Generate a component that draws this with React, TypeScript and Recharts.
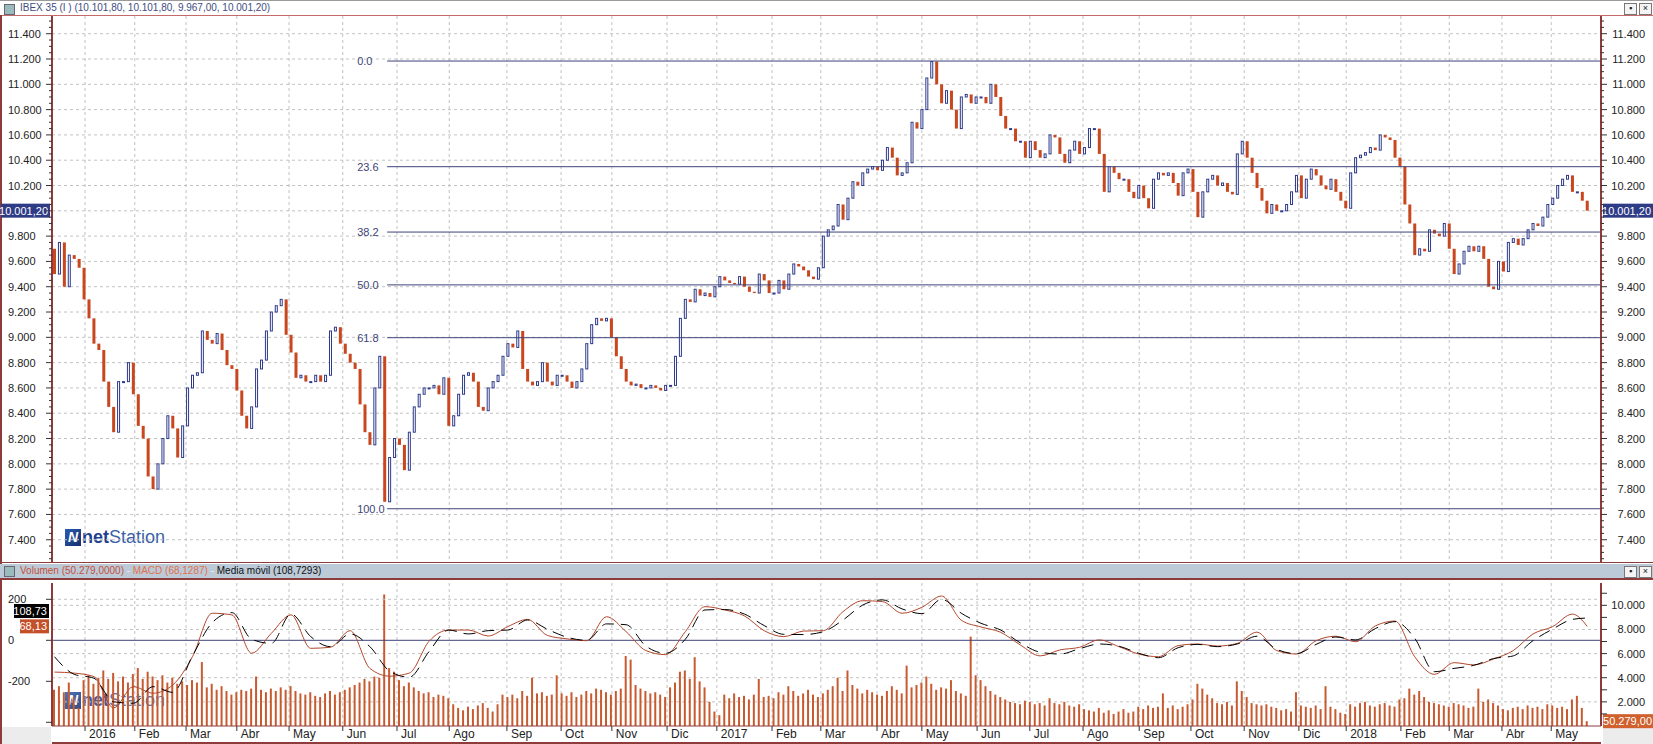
import React from "react";
import { ComposedChart, Bar, Line, XAxis, YAxis, ReferenceLine, CartesianGrid } from "recharts";

const FONT = '"Liberation Sans", Arial, sans-serif';
const W = 1653;
const AXIS_W = 52;
const PLOT_RIGHT = W - AXIS_W;
const FRAME = "#8e3b3b";
const GRID = "#c2c2c2";
const FIB = "#3d4478";
const DOWN = "#c9471f";
const UP_EDGE = "#2d3a8c";
const VOL = "#c85a30";
const MACD_C = "#b4472c";

// x positions are in candle units (one candle = two sessions)
const xDomain = [-0.5, 313.8];
const monthLabels = ["2016", "Feb", "Mar", "Abr", "May", "Jun", "Jul", "Ago", "Sep", "Oct", "Nov", "Dic",
  "2017", "Feb", "Mar", "Abr", "May", "Jun", "Jul", "Ago", "Sep", "Oct", "Nov", "Dic",
  "2018", "Feb", "Mar", "Abr", "May"];
const monthStarts = [6.2, 16.3, 26.7, 37.0, 47.6, 58.5, 69.5, 80.1, 91.8, 102.8, 113.1, 124.3,
  134.4, 145.6, 155.5, 166.9, 176.0, 187.2, 197.9, 208.7, 220.1, 230.6, 241.4, 252.5,
  262.1, 273.2, 283.0, 293.7, 303.7];

const firstOpen = 9700;
const closes = [
  9500, 9750, 9400, 9650, 9620, 9550, 9300, 9150, 8950, 8900,
  8650, 8450, 8250, 8650, 8650, 8800, 8550, 8300, 8200, 7900,
  7800, 8000, 8200, 8380, 8280, 8050, 8300, 8600, 8700, 8720,
  9050, 8980, 8950, 9030, 8900, 8780, 8750, 8580, 8380, 8280,
  8450, 8750, 8820, 9050, 9200, 9250, 9300, 9020, 8880, 8680,
  8700, 8650, 8650, 8700, 8650, 8700, 9050, 9080, 8950, 8870,
  8800, 8750, 8470, 8250, 8150, 8600, 8850, 7700, 8050, 8200,
  8150, 7950, 8250, 8450, 8550, 8600, 8600, 8620, 8550, 8680,
  8300, 8380, 8550, 8700, 8720, 8650, 8450, 8420, 8600, 8650,
  8700, 8850, 8950, 8920, 9050, 8750, 8650, 8620, 8650, 8800,
  8650, 8620, 8700, 8700, 8650, 8600, 8650, 8750, 8950, 9100,
  9150, 9130, 9150, 9000, 8850, 8750, 8650, 8620, 8630, 8600,
  8600, 8620, 8600, 8580, 8620, 8620, 8850, 9150, 9300, 9280,
  9380, 9330, 9350, 9320, 9400, 9480, 9450, 9430, 9420, 9480,
  9400, 9360, 9350, 9500, 9450, 9350, 9350, 9450, 9380, 9500,
  9580, 9560, 9530, 9480, 9460, 9550, 9800, 9850, 9880, 10050,
  9930, 10100, 10230, 10200, 10300, 10330, 10350, 10320, 10400, 10500,
  10420, 10280, 10300, 10380, 10700, 10650, 10800, 11050, 11180, 11000,
  10850, 10950, 10800, 10650, 10900, 10920, 10850, 10900, 10900, 10850,
  11000, 10900, 10750, 10650, 10650, 10550, 10550, 10420, 10550, 10480,
  10420, 10450, 10600, 10580, 10450, 10380, 10480, 10550, 10450, 10500,
  10650, 10650, 10450, 10150, 10350, 10300, 10250, 10250, 10150, 10100,
  10200, 10100, 10020, 10250, 10300, 10280, 10300, 10220, 10120, 10300,
  10330, 10150, 9950, 10150, 10250, 10280, 10200, 10220, 10150, 10130,
  10450, 10550, 10420, 10300, 10180, 10080, 9980, 10050, 10000, 10000,
  10050, 10150, 10280, 10100, 10250, 10330, 10280, 10200, 10170, 10250,
  10150, 10080, 10020, 10300, 10420, 10440, 10460, 10500, 10480, 10600,
  10580, 10560, 10420, 10350, 10050, 9900, 9650, 9700, 9680, 9850,
  9820, 9800, 9900, 9700, 9500, 9580, 9680, 9720, 9680, 9720,
  9620, 9400, 9380, 9600, 9520, 9750, 9780, 9730, 9780, 9850,
  9900, 9880, 9950, 10050, 10100, 10200, 10250, 10280, 10150, 10150,
  10080, 10001.2,
];

const volumes = [
  3000, 3300, 2800, 3600, 2400, 1500, 3800, 4200, 3500, 4000,
  4600, 3900, 4400, 3700, 4100, 3600, 4300, 4800, 3900, 4500,
  4100, 3800, 4200, 3600, 4000, 3500, 3700, 3400, 3800, 3600,
  5300, 3200, 3500, 3000, 3300, 2900, 2600, 2800, 3000, 2900,
  3100, 4100, 3000, 2800, 3100, 2900, 3200, 3000, 3300, 2900,
  2700, 2600, 2800, 2500, 2400, 2700, 2900, 2600, 2800, 3000,
  3200, 3400, 3600, 3900, 3700, 4100, 4000, 10900, 4800, 4500,
  3800, 3300, 3600, 3200, 2900, 2700, 2800, 2400, 2600, 2500,
  2300, 1800, 1500, 1300, 1600, 1400, 1700, 1900, 1500, 1200,
  1800, 2600, 2400, 2600, 2300, 2900, 2500, 4000, 2700, 2800,
  2500, 2600, 4200, 2700, 2500, 2800, 2400, 2600, 2900, 2700,
  3100, 3000, 2800, 2600, 2900, 3100, 5800, 5500, 3400, 3100,
  2900, 2700, 2800, 2600, 2400, 3200, 3600, 4500, 4600, 3900,
  5700, 3700, 3200, 2000, 1200, 900, 2600, 2300, 2700, 2400,
  2500, 2200, 2600, 3900, 2400, 2500, 2300, 2800, 2600, 3300,
  2900, 2500, 2700, 3000, 2600, 2400, 2700, 3000, 3300, 4000,
  2900, 4600, 3400, 3100, 2700, 3000, 2800, 2600, 2500, 2900,
  3300, 3000, 2700, 5000, 3200, 3400, 3600, 4100, 3500, 3000,
  3200, 3100, 3800, 2900, 2700, 2500, 7400, 4200, 3800, 3300,
  2900, 2600, 2400, 2200, 2000, 1900, 1800, 2100, 2000, 1800,
  1900, 1700, 2300, 1900, 1800, 2000, 1700, 1600, 1800, 1400,
  1300, 1200, 1500, 1100, 1300, 1000, 1200, 1400, 1100, 1200,
  1600, 1400, 1700, 1500, 1600, 2700, 1500, 1700, 1400, 1600,
  1800, 2200, 3500, 3100, 2600, 2300, 1900, 1800, 2000, 1700,
  3700, 2900, 2400, 1900, 1800, 1700, 1800, 1600, 1500, 1300,
  1400, 1200, 2800, 1700, 1600, 1500, 1700, 1400, 3300, 1600,
  1400, 1100, 1000, 1800, 1600, 1900, 2000, 1700, 1600, 1800,
  1900, 1700, 1600, 2200, 2300, 3100, 2600, 2900, 2400, 2000,
  1900, 1800, 1700, 1600, 1900, 1800, 1700, 1500, 1600, 3100,
  2000, 2200, 1900, 1700, 1400, 1300, 1500, 1600, 1400, 1700,
  1500, 1600, 1400, 1800, 1700, 1500, 1600, 1400, 2200, 2500,
  1500, 400,
];

// MACD and its moving average, one reading every 4 candles (last one on the last candle)
const macdStep = 4;
const macd = [
  -155, -160, -177, -330, -226, -258, -218, -80, 132, 124,
  -63, 34, 124, -39, -34, 47, -137, -175, -160, -5,
  50, 50, 21, 67, 102, 24, 7, -2, 115, 42,
  -50, -70, 42, 164, 148, 119, 47, 18, 45, 47,
  140, 193, 189, 132, 161, 216, 98, 65, 39, -23,
  -76, -47, -34, 2, -31, -67, -80, -26, -18, -28,
  -15, 40, -50, -67, -2, 20, -7, 70, 94, -80,
  -166, -109, -120, -91, -50, 31, 67, 128, 68.1287,
];
const signal = [
  -80, -166, -185, -300, -307, -226, -254, -76, 86, 135,
  5, -15, 128, 18, -31, 31, -31, -150, -180, -55,
  50, 31, 47, 50, 99, 54, 15, 0, 80, 76,
  -28, -63, 5, 148, 150, 128, 72, 29, 28, 42,
  99, 172, 197, 153, 130, 200, 132, 83, 50, -13,
  -58, -67, -41, -18, -29, -63, -85, -36, -20, -31,
  -18, 20, -44, -65, -20, 16, 2, 57, 91, 10,
  -153, -137, -122, -89, -76, -2, 55, 102, 108.7293,
];

const lastOpen = 10101.8;
const lastHigh = 10101.8;
const lastLow = 9967;
const lastPrice = 10001.2;
const volumeReading = 50279;

const fibHigh = 11184;
const fibLow = 7645;
const fibRatios = [0, 23.6, 38.2, 50, 61.8, 100];
const fibStart = 67.5;

const priceLabels = [7400, 7600, 7800, 8000, 8200, 8400, 8600, 8800, 9000, 9200, 9400,
  9600, 9800, 10000, 10200, 10400, 10600, 10800, 11000, 11200, 11400];
const priceTicks = priceLabels.flatMap((v) => [v - 150, v - 100, v - 50, v]).concat([11450, 11500]);
const macdLabels = [-200, 0, 200];
const macdTicks = [-400, -200, 0, 200];
const volLabels = [2000, 4000, 6000, 8000, 10000];
const volTicks = [1000, 2000, 3000, 4000, 5000, 6000, 7000, 8000, 9000, 10000, 11000];

function fmt(v: number, decimals = 0) {
  const neg = v < 0;
  const [int, dec] = Math.abs(v).toFixed(decimals).split(".");
  const grouped = int.replace(/\B(?=(\d{3})+(?!\d))/g, ".");
  return (neg ? "-" : "") + grouped + (dec ? "," + dec : "");
}

const rows: any[] = closes.map((c, k) => {
  const o = k === 0 ? firstOpen : closes[k - 1];
  return { k, o, c, body: [Math.min(o, c), Math.max(o, c)], vol: volumes[k] };
});
macd.forEach((m, i) => {
  const k = Math.min(i * macdStep, rows.length - 1);
  rows[k].macd = m;
  rows[k].signal = signal[i];
});

const txt = { fontFamily: FONT, fontSize: 11, fill: "#222" };

function Candle(props: any) {
  const { x, y, width, height, payload } = props;
  const h = Math.max(height, 1);
  if (payload.c >= payload.o) {
    return <rect x={x + 0.5} y={y} width={width - 1} height={h} fill="#fff" stroke={UP_EDGE} strokeWidth={1} />;
  }
  return <rect x={x} y={y} width={width} height={h} fill={DOWN} />;
}

function SideTick(props: any) {
  const { y, payload, side, labels, format, hide } = props;
  const v = payload.value;
  const major = labels.includes(v) || v % 200 === 0;
  const left = side === "left";
  const x0 = left ? AXIS_W : PLOT_RIGHT;
  const s = left ? -1 : 1;
  const showLabel = labels.includes(v) && !(hide && hide(v));
  return (
    <g>
      <line x1={x0} x2={x0 + s * (major ? 6 : 3)} y1={y} y2={y} stroke="#333" />
      {showLabel && (
        <text x={left ? 8 : W - 8} y={y + 4} textAnchor={left ? "start" : "end"} {...txt}>
          {format(v)}
        </text>
      )}
    </g>
  );
}

// the last-price box covers the nearest axis label
const underPriceBox = (v: number) => Math.abs(v - lastPrice) < 60;

function MonthTick(props: any) {
  const { x, y, payload } = props;
  const i = monthStarts.indexOf(payload.value);
  return (
    <g>
      <line x1={x} x2={x} y1={y - 8} y2={y - 3} stroke="#333" />
      <text x={x + 4} y={y + 4} fontFamily={FONT} fontSize={12} fill="#222">{monthLabels[i]}</text>
    </g>
  );
}

function Box({ x, y, w, bg, text }: any) {
  return (
    <g>
      <rect x={x} y={y - 7} width={w} height={14} fill={bg} />
      <text x={x + w - 2} y={y + 4} textAnchor="end" fontFamily={FONT} fontSize={11} fill="#fff">{text}</text>
    </g>
  );
}

function Watermark({ x, y, opacity }: any) {
  return (
    <div style={{ position: "absolute", left: x, top: y, display: "flex", alignItems: "center", opacity }}>
      <div style={{ width: 16, height: 17, background: "linear-gradient(135deg,#2a5cb0,#14306e)", color: "#fff",
        fontSize: 14, fontWeight: 700, fontStyle: "italic", lineHeight: "17px", textAlign: "center" }}>N</div>
      <span style={{ fontSize: 18, fontWeight: 700, color: "#1f3f8f", marginLeft: 1 }}>net</span>
      <span style={{ fontSize: 18, color: "#3b5fa8" }}>Station</span>
    </div>
  );
}

function WinButtons({ top }: any) {
  const b = { position: "absolute" as const, top, width: 11, height: 10, border: "1px solid #777", background: "#f4f4f4",
    fontSize: 9, lineHeight: "9px", textAlign: "center" as const, color: "#222" };
  return (
    <>
      <div style={{ ...b, left: 1624 }}>▪</div>
      <div style={{ ...b, left: 1639 }}>×</div>
    </>
  );
}

export default function App() {
  const title = `IBEX 35 (I ) (${fmt(lastOpen, 2)}, ${fmt(lastHigh, 2)}, ${fmt(lastLow, 2)}, ${fmt(lastPrice, 2)})`;
  const lastMacd = macd[macd.length - 1];
  const lastSignal = signal[signal.length - 1];
  return (
    <div style={{ position: "absolute", left: 0, top: 0, width: W, height: 744, background: "#fff", overflow: "hidden", fontFamily: FONT }}>
      {/* price window title */}
      <div style={{ position: "absolute", left: 0, top: 0, width: W, height: 1, background: "#9a9a9a" }} />
      <div style={{ position: "absolute", left: 4, top: 4, width: 9, height: 9, background: "#9bb", border: "1px solid #667" }} />
      <div style={{ position: "absolute", left: 20, top: 2, fontSize: 10, color: "#3e4d80", whiteSpace: "pre" }}>{title}</div>
      <WinButtons top={3} />
      <div style={{ position: "absolute", left: 0, top: 15, width: W, height: 1, background: "#c46a6a" }} />
      <div style={{ position: "absolute", left: 0, top: 15, width: 2, height: 729, background: FRAME }} />

      <Watermark x={65} y={527} opacity={1} />

      <div style={{ position: "absolute", left: 0, top: 16 }}>
        <ComposedChart width={W} height={547} data={rows} margin={{ top: 0, right: 0, bottom: 1, left: 0 }}>
          <CartesianGrid yAxisId="l" stroke={GRID} strokeDasharray="3 3"
            horizontalValues={priceLabels} verticalValues={monthStarts} />
          <XAxis dataKey="k" type="number" domain={xDomain} allowDataOverflow hide />
          <YAxis yAxisId="l" orientation="left" width={AXIS_W} domain={[7224, 11540]} allowDataOverflow
            ticks={priceTicks} interval={0} tickLine={false} axisLine={{ stroke: FRAME, strokeWidth: 2 }}
            tick={(p: any) => <SideTick {...p} side="left" labels={priceLabels} format={fmt} hide={underPriceBox} />} />
          <YAxis yAxisId="r" orientation="right" width={AXIS_W} domain={[7224, 11540]} allowDataOverflow
            ticks={priceTicks} interval={0} tickLine={false} axisLine={{ stroke: FRAME, strokeWidth: 2 }}
            tick={(p: any) => <SideTick {...p} side="right" labels={priceLabels} format={fmt} hide={underPriceBox} />} />
          {fibRatios.map((r) => {
            const lvl = fibHigh - (r / 100) * (fibHigh - fibLow);
            return (
              <ReferenceLine key={r} yAxisId="l" stroke={FIB} strokeWidth={1}
                segment={[{ x: fibStart, y: lvl }, { x: xDomain[1], y: lvl }]}
                label={(p: any) => (
                  <text x={p.viewBox.x - 30} y={p.viewBox.y + 4} fontFamily={FONT} fontSize={11} fill={FIB}>
                    {r.toFixed(1)}
                  </text>
                )} />
            );
          })}
          <Bar yAxisId="l" dataKey="body" barSize={3} shape={Candle} isAnimationActive={false} />
          <ReferenceLine yAxisId="l" y={lastPrice} stroke="none"
            label={(p: any) => (
              <g>
                <Box x={1} y={p.viewBox.y} w={49} bg="#2e3b86" text={fmt(lastPrice, 2)} />
                <Box x={PLOT_RIGHT + 2} y={p.viewBox.y} w={50} bg="#2e3b86" text={fmt(lastPrice, 2)} />
              </g>
            )} />
        </ComposedChart>
      </div>

      {/* indicator window */}
      <div style={{ position: "absolute", left: 0, top: 562, width: W, height: 1, background: FRAME }} />
      <div style={{ position: "absolute", left: 0, top: 564, width: W, height: 14, background: "#bccad8" }} />
      <div style={{ position: "absolute", left: 4, top: 566, width: 9, height: 9, background: "#9bb", border: "1px solid #667" }} />
      <div style={{ position: "absolute", left: 20, top: 565, fontSize: 10, whiteSpace: "pre" }}>
        <span style={{ color: "#c4503a" }}>{`Volumen (${fmt(volumeReading, 4)})`}</span>
        <span style={{ color: "#eef" }}> - </span>
        <span style={{ color: "#e0704a" }}>{`MACD (${fmt(lastMacd, 4)})`}</span>
        <span style={{ color: "#eef" }}> - </span>
        <span style={{ color: "#111" }}>{`Media móvil (${fmt(lastSignal, 4)})`}</span>
      </div>
      <WinButtons top={566} />
      <div style={{ position: "absolute", left: 0, top: 578, width: W, height: 2, background: FRAME }} />

      <Watermark x={65} y={690} opacity={0.85} />
      <div style={{ position: "absolute", left: 2, top: 727, width: 49, height: 17, background: "#ececec" }} />
      <div style={{ position: "absolute", left: PLOT_RIGHT + 2, top: 728, width: 50, height: 16, background: "#ececec" }} />

      <div style={{ position: "absolute", left: 0, top: 580 }}>
        <ComposedChart width={W} height={164} data={rows} margin={{ top: 3, right: 0, bottom: 0, left: 0 }}>
          <CartesianGrid yAxisId="vol" stroke={GRID} strokeDasharray="3 3"
            horizontalValues={volLabels} verticalValues={monthStarts} />
          <XAxis dataKey="k" type="number" domain={xDomain} allowDataOverflow height={18}
            ticks={monthStarts} interval={0} tickLine={false} axisLine={{ stroke: FRAME }} tick={MonthTick} />
          <YAxis yAxisId="macd" orientation="left" width={AXIS_W} domain={[-418, 279.5]} allowDataOverflow
            ticks={macdTicks} interval={0} tickLine={false} axisLine={{ stroke: FRAME, strokeWidth: 2 }}
            tick={(p: any) => <SideTick {...p} side="left" labels={macdLabels} format={(v: number) => String(v)} />} />
          <YAxis yAxisId="vol" orientation="right" width={AXIS_W} domain={[0, 11850]} allowDataOverflow
            ticks={volTicks} interval={0} tickLine={false} axisLine={{ stroke: FRAME, strokeWidth: 2 }}
            tick={(p: any) => <SideTick {...p} side="right" labels={volLabels} format={fmt} />} />
          <ReferenceLine yAxisId="macd" y={200} stroke={GRID} strokeDasharray="3 3" />
          <Bar yAxisId="vol" dataKey="vol" barSize={2} fill={VOL} isAnimationActive={false} />
          <ReferenceLine yAxisId="macd" y={0} stroke={FIB} />
          <Line yAxisId="macd" dataKey="macd" type="monotone" stroke={MACD_C} strokeWidth={1} dot={false}
            connectNulls isAnimationActive={false} />
          <Line yAxisId="macd" dataKey="signal" type="monotone" stroke="#000" strokeWidth={1} dot={false}
            strokeDasharray="12 7" connectNulls isAnimationActive={false} />
          <ReferenceLine yAxisId="macd" y={lastSignal} stroke="none"
            label={(p: any) => <Box x={14} y={p.viewBox.y - 7} w={35} bg="#000" text={fmt(lastSignal, 2)} />} />
          <ReferenceLine yAxisId="macd" y={lastMacd} stroke="none"
            label={(p: any) => <Box x={20} y={p.viewBox.y} w={29} bg="#c4502a" text={fmt(lastMacd, 2)} />} />
          <ReferenceLine yAxisId="vol" y={volumes[volumes.length - 1]} stroke="none"
            label={(p: any) => <Box x={PLOT_RIGHT + 2} y={p.viewBox.y} w={51} bg="#d0602e" text={fmt(volumeReading, 2)} />} />
        </ComposedChart>
      </div>
      <div style={{ position: "absolute", left: AXIS_W, top: 742, width: PLOT_RIGHT - AXIS_W, height: 2, background: FRAME }} />
    </div>
  );
}
